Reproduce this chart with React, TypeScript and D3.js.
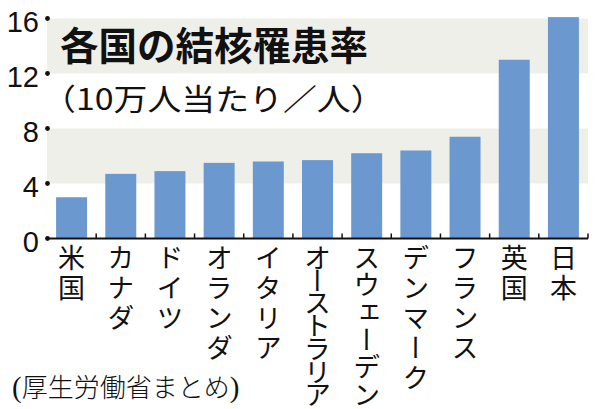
import React from 'react';
import * as d3 from 'd3';

const categories = ['米国', 'カナダ', 'ドイツ', 'オランダ', 'イタリア', 'オーストラリア', 'スウェーデン', 'デンマーク', 'フランス', '英国', '日本'];
const values = [3.0, 4.7, 4.9, 5.5, 5.6, 5.7, 6.2, 6.4, 7.4, 13.0, 16.1];
const yTicks = [0, 4, 8, 12, 16];
const shadedBands: [number, number][] = [[4, 8], [12, 16]];
const titleText = '各国の結核罹患率';
const subtitleText = '（10万人当たり／人）';
const sourceText = '厚生労働省まとめ';

const W = 600;
const H = 409;
const CJK = '"Noto Sans CJK JP", "Noto Sans CJK SC", sans-serif';

export default function App() {
  const x = d3.scaleBand<string>().domain(categories).range([47, 588]).paddingInner(0.37).paddingOuter(0.185);
  const y = d3.scaleLinear().domain([0, 16]).range([238.5, 18.5]);
  const step = x.step();
  const bw = x.bandwidth();
  const fs = 27;

  return (
    <svg width={W} height={H} style={{ position: 'absolute', left: 0, top: 0, background: '#fff' }}>
      {shadedBands.map(([a, b], i) => (
        <rect key={i} x={47} y={y(b)} width={588 - 47} height={y(a) - y(b)} fill="#efefea" />
      ))}
      {categories.map((c, i) => (
        <rect key={c} x={x(c)} y={y(values[i])} width={bw} height={y(0) - y(values[i])} fill="#6b98cf" />
      ))}
      <line x1={47} x2={588} y1={y(0)} y2={y(0)} stroke="#111" strokeWidth={2} />
      {categories.map((c, i) => {
        const tx = (x(c) as number) + bw + (step - bw) / 2;
        return <line key={'t' + i} x1={tx} x2={tx} y1={y(0)} y2={y(0) - 5} stroke="#111" strokeWidth={1.5} />;
      })}
      {yTicks.map((t) => (
        <g key={'y' + t}>
          <circle cx={47.5} cy={y(t)} r={2.4} fill="#111" />
          <text x={39} y={y(t) + 13} textAnchor="end" fontFamily='"Liberation Sans", Arial, sans-serif' fontSize={29} fill="#111">
            {t}
          </text>
        </g>
      ))}
      <text x={60} y={60} fontFamily={CJK} fontWeight={700} fontSize={38.5} fill="#111">
        {titleText}
      </text>
      <text transform="translate(42,110) scale(1.13,1)" x={0} y={0} fontFamily={CJK} fontWeight={400} fontSize={30} fill="#111">
        {subtitleText}
      </text>
      {categories.map((c) => {
        const n = Array.from(c).length;
        const pitch = n > 1 ? Math.min(30, 137 / (n - 1)) : 30;
        const cx = (x(c) as number) + bw / 2;
        return (
          <text
            key={'l' + c}
            x={cx}
            y={244}
            writingMode="vertical-rl"
            style={{ writingMode: 'vertical-rl', textOrientation: 'upright' } as React.CSSProperties}
            letterSpacing={pitch - fs}
            fontFamily={CJK}
            fontSize={fs}
            fill="#111"
          >
            {c}
          </text>
        );
      })}
      <text x={12} y={397} fontFamily={CJK} fontSize={26} fontWeight={300} fill="#111">
        <tspan fontFamily='"Liberation Serif", serif' fontSize={29}>(</tspan>
        {sourceText}
        <tspan fontFamily='"Liberation Serif", serif' fontSize={29}>)</tspan>
      </text>
    </svg>
  );
}
